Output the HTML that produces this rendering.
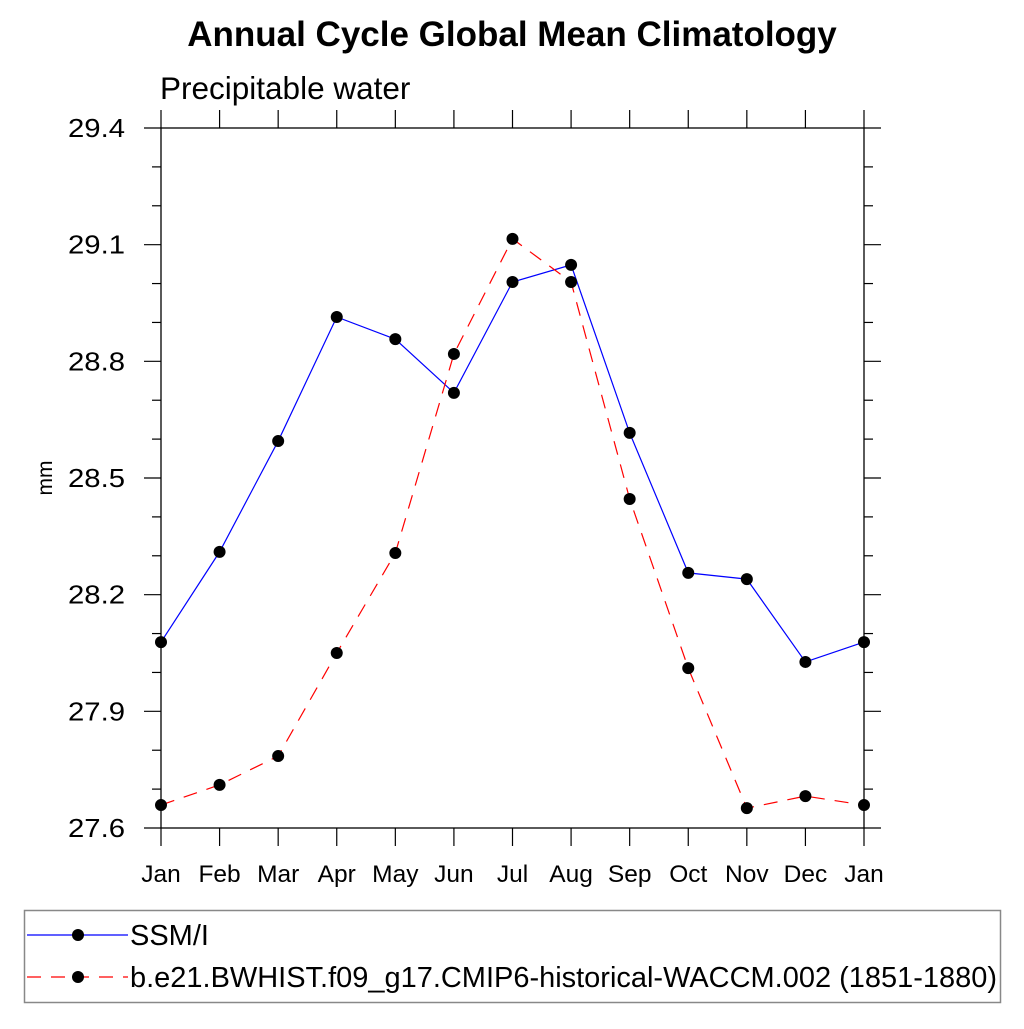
<!DOCTYPE html>
<html><head><meta charset="utf-8"><style>
body{margin:0;background:#fff;}
svg text{font-family:"Liberation Sans",sans-serif;}
</style></head><body>
<svg id="chart" width="1024" height="1024" xmlns="http://www.w3.org/2000/svg">
<text x="512" y="46" text-anchor="middle" font-size="35" font-weight="bold">Annual Cycle Global Mean Climatology</text>
<text x="160" y="99" font-size="31.5">Precipitable water</text>
<text x="52" y="478" font-size="21" text-anchor="middle" transform="rotate(-90 52 478)">mm</text>
<g id="axes"></g>
<g id="series"></g>
<rect x="24.5" y="910.5" width="976" height="92" fill="none" stroke="#888" stroke-width="1.5"/>
<g>
<line x1="27" y1="935" x2="128" y2="935" stroke="#00f" stroke-width="1.2"/>
<circle cx="78" cy="935" r="6" fill="#000"/>
<text x="130" y="945" font-size="29">SSM/I</text></g>
<g>
<line x1="27" y1="977" x2="128" y2="977" stroke="#f00" stroke-width="1.2" stroke-dasharray="14,10"/>
<circle cx="78" cy="977" r="6" fill="#000"/>
<text x="130" y="987" font-size="29" textLength="867" lengthAdjust="spacingAndGlyphs">b.e21.BWHIST.f09_g17.CMIP6-historical-WACCM.002 (1851-1880)</text></g>
</svg>
<script>
const months=["Jan","Feb","Mar","Apr","May","Jun","Jul","Aug","Sep","Oct","Nov","Dec","Jan"];
const ssmi=[28.078,28.310,28.595,28.914,28.857,28.719,29.004,29.048,28.616,28.256,28.240,28.027,28.078];
const model=[27.659,27.711,27.785,28.050,28.307,28.819,29.115,29.004,28.446,28.011,27.651,27.682,27.659];
const yTicks=["27.6","27.9","28.2","28.5","28.8","29.1","29.4"];
const NS="http://www.w3.org/2000/svg";
const X0=161,X1=864,Y0=828,Y1=128,YMIN=27.6,YMAX=29.4;
const xs=i=>X0+(X1-X0)*i/(months.length-1);
const ys=v=>Y0-(v-YMIN)/(YMAX-YMIN)*(Y0-Y1);
function mk(tag,attrs,parent){const e=document.createElementNS(NS,tag);for(const k in attrs)e.setAttribute(k,attrs[k]);parent.appendChild(e);return e;}
const ax=document.getElementById('axes');
const fr=mk('rect',{x:X0,y:Y1,width:X1-X0,height:Y0-Y1,fill:'none',stroke:'#000','stroke-width':1.3},ax);


months.forEach((m,i)=>{const x=xs(i);
mk('line',{x1:x,y1:Y0,x2:x,y2:Y0+18,stroke:'#000','stroke-width':1.2},ax);
mk('line',{x1:x,y1:Y1,x2:x,y2:Y1-18,stroke:'#000','stroke-width':1.2},ax);
const t=mk('text',{x:x,y:882,'text-anchor':'middle','font-size':24.5},ax);t.textContent=m;

});
for(let v=YMIN;v<=YMAX+1e-6;v+=0.1){const y=ys(v);const major=Math.round(v*10)%3===0;const L=major?17:9;
mk('line',{x1:X0-L,y1:y,x2:X0,y2:y,stroke:'#000','stroke-width':1.2},ax);
mk('line',{x1:X1,y1:y,x2:X1+L,y2:y,stroke:'#000','stroke-width':1.2},ax);}
yTicks.forEach(s=>{const y=ys(parseFloat(s));const t=mk('text',{x:125,y:y+9,'text-anchor':'end','font-size':26,textLength:57,lengthAdjust:'spacingAndGlyphs'},ax);t.textContent=s;

});
const sg=document.getElementById('series');
function series(vals,color,dash,name){
const p=mk('polyline',{points:vals.map((v,i)=>xs(i)+','+ys(v)).join(' '),fill:'none',stroke:color,'stroke-width':1.2,'stroke-dasharray':dash},sg);


vals.forEach((v,i)=>{const c=mk('circle',{cx:xs(i),cy:ys(v),r:6,fill:'#000'},sg);

});}
series(ssmi,'#00f','none','ssmi');
series(model,'#f00','14,10','model');
</script>
</body></html>
